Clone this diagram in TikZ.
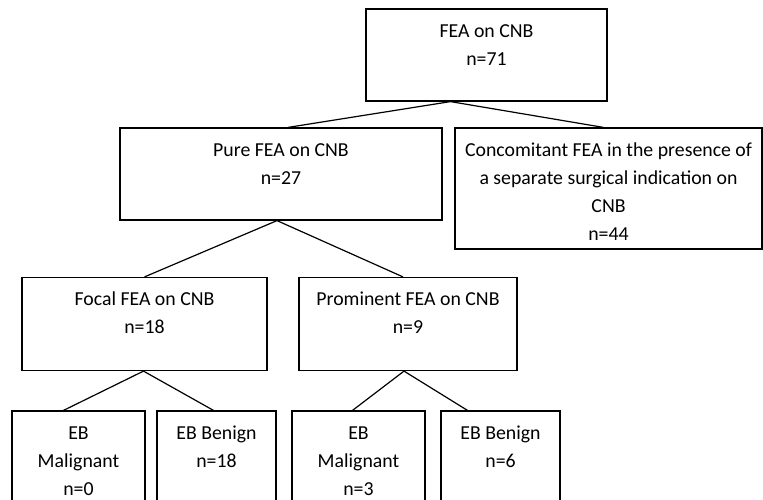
\documentclass[tikz,border=0pt]{standalone}
\usepackage{fontspec}
\setmainfont{Carlito}
\usetikzlibrary{calc}
\newcommand{\boxtxt}[3]{\parbox[c][#2][t]{#1}{\centering\rule{0pt}{28pt}#3}}
\tikzset{
  flowBox/.style={draw=black, line width=1.2pt, inner sep=0pt, font=\fontsize{19.8}{28}\selectfont},
  flowLink/.style={line width=1.2pt, draw=black}
}
\begin{document}
\begin{tikzpicture}[x=1pt,y=-1pt]
  \fill[white] (0,0) rectangle (763,499);
  \useasboundingbox (0,0) rectangle (763,499);
  \clip (0,0) rectangle (763,499);
  \node[flowBox] (fea) at (486.5,55) {\boxtxt{241pt}{92pt}{FEA on CNB\\n=71}};
  \node[flowBox] (pure) at (281,174) {\boxtxt{322pt}{92pt}{Pure FEA on CNB\\n=27}};
  \node[flowBox] (conc) at (608.5,188.5) {\boxtxt{307pt}{121pt}{Concomitant FEA in the presence of\\a separate surgical indication on\\CNB\\n=44}};
  \node[flowBox] (focal) at (144.5,324) {\boxtxt{245pt}{93pt}{Focal FEA on CNB\\n=18}};
  \node[flowBox] (prom) at (408,324) {\boxtxt{218pt}{93pt}{Prominent FEA on CNB\\n=9}};
  \node[flowBox] (malA) at (78.5,470.5) {\boxtxt{133pt}{119pt}{EB\\Malignant\\n=0}};
  \node[flowBox] (benA) at (216.5,470.5) {\boxtxt{119pt}{119pt}{EB Benign\\n=18}};
  \node[flowBox] (malB) at (358.5,470.5) {\boxtxt{133pt}{119pt}{EB\\Malignant\\n=3}};
  \node[flowBox] (benB) at (500.5,470.5) {\boxtxt{119pt}{119pt}{EB Benign\\n=6}};
  \draw[flowLink] ($(fea.south)+(-36,0)$) -- ($(pure.north)+(7,0)$);
  \draw[flowLink] ($(fea.south)+(-36,0)$) -- ($(conc.north)+(-5,0)$);
  \draw[flowLink] ($(pure.south)+(-4,0)$) -- (focal.north);
  \draw[flowLink] ($(pure.south)+(-4,0)$) -- ($(prom.north)+(-5,0)$);
  \draw[flowLink] ($(focal.south)+(-1,0)$) -- ($(malA.north)+(-15,0)$);
  \draw[flowLink] ($(focal.south)+(-1,0)$) -- ($(benA.north)+(-3,0)$);
  \draw[flowLink] ($(prom.south)+(-4,0)$) -- ($(malB.north)+(-6,0)$);
  \draw[flowLink] ($(prom.south)+(-4,0)$) -- ($(benB.north)+(-33,0)$);
\end{tikzpicture}
\end{document}
